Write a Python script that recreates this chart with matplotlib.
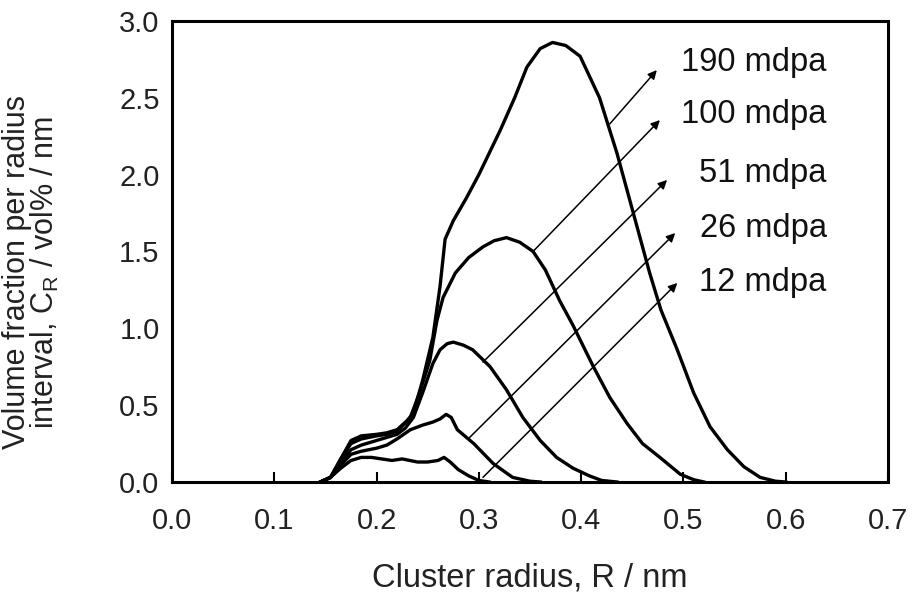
import matplotlib.pyplot as plt
import numpy as np

plt.rcParams['font.family'] = ['Liberation Sans', 'DejaVu Sans']

# Данные кривых
r_190 = [0.145, 0.155, 0.165, 0.175, 0.185, 0.20, 0.21, 0.22, 0.23, 0.236, 0.245, 0.255, 0.262, 0.267,
         0.275, 0.288, 0.30, 0.321, 0.335, 0.347, 0.36, 0.372, 0.385, 0.399, 0.418, 0.435, 0.451, 0.467,
         0.478, 0.494, 0.510, 0.526, 0.543, 0.559, 0.575, 0.59, 0.60]
c_190 = [0.0, 0.03, 0.15, 0.27, 0.30, 0.31, 0.32, 0.34, 0.40, 0.45, 0.66, 0.94, 1.27, 1.58,
         1.70, 1.85, 2.00, 2.29, 2.50, 2.70, 2.82, 2.86, 2.84, 2.77, 2.50, 2.14, 1.75, 1.36,
         1.12, 0.86, 0.58, 0.36, 0.21, 0.10, 0.03, 0.005, 0.0]

r_100 = [0.145, 0.155, 0.165, 0.175, 0.185, 0.20, 0.21, 0.22, 0.233, 0.242, 0.252, 0.259, 0.265,
         0.277, 0.29, 0.304, 0.315, 0.327, 0.34, 0.353, 0.365, 0.379, 0.392, 0.412, 0.428, 0.445,
         0.46, 0.477, 0.497, 0.51, 0.52]
c_100 = [0.0, 0.03, 0.15, 0.25, 0.28, 0.30, 0.31, 0.33, 0.42, 0.58, 0.79, 1.05, 1.20,
         1.36, 1.46, 1.53, 1.57, 1.59, 1.56, 1.50, 1.38, 1.18, 1.02, 0.75, 0.55, 0.38,
         0.25, 0.16, 0.05, 0.015, 0.0]

r_51 = [0.145, 0.155, 0.165, 0.175, 0.185, 0.20, 0.21, 0.22, 0.228, 0.236, 0.245, 0.255, 0.262,
        0.269, 0.275, 0.285, 0.294, 0.311, 0.327, 0.343, 0.36, 0.376, 0.392, 0.408, 0.42, 0.435]
c_51 = [0.0, 0.03, 0.13, 0.21, 0.24, 0.27, 0.29, 0.31, 0.35, 0.42, 0.58, 0.77, 0.86,
        0.90, 0.91, 0.89, 0.86, 0.75, 0.60, 0.42, 0.27, 0.16, 0.09, 0.04, 0.01, 0.0]

r_26 = [0.145, 0.155, 0.165, 0.175, 0.185, 0.20, 0.21, 0.22, 0.233, 0.245, 0.255, 0.262, 0.268,
        0.273, 0.279, 0.295, 0.314, 0.333, 0.35, 0.36]
c_26 = [0.0, 0.03, 0.11, 0.18, 0.20, 0.22, 0.24, 0.28, 0.34, 0.37, 0.39, 0.41, 0.44,
        0.42, 0.34, 0.25, 0.12, 0.03, 0.005, 0.0]

r_12 = [0.145, 0.155, 0.165, 0.175, 0.185, 0.195, 0.205, 0.215, 0.225, 0.24, 0.25, 0.26, 0.266,
        0.272, 0.28, 0.29, 0.30, 0.31]
c_12 = [0.0, 0.03, 0.09, 0.14, 0.16, 0.16, 0.15, 0.14, 0.15, 0.13, 0.13, 0.14, 0.16,
        0.13, 0.08, 0.04, 0.01, 0.0]

labels = ['190 mdpa', '100 mdpa', '51 mdpa', '26 mdpa', '12 mdpa']
label_y = [2.73, 2.39, 2.01, 1.65, 1.30]
arrow_tail = [(0.428, 2.33), (0.353, 1.50), (0.304, 0.78), (0.291, 0.29), (0.304, 0.03)]
arrow_head = [(0.474, 2.68), (0.477, 2.355), (0.484, 1.965), (0.492, 1.62), (0.494, 1.295)]

fig = plt.figure(figsize=(9.16, 5.98), dpi=100)
ax = fig.add_axes([0.1878, 0.194, 0.7816, 0.771])

for r, c in [(r_190, c_190), (r_100, c_100), (r_51, c_51), (r_26, c_26), (r_12, c_12)]:
    ax.plot(r, c, color='black', linewidth=2.4, solid_joinstyle='round')

# Стрелки и подписи
for lab, ly, tail, head in zip(labels, label_y, arrow_tail, arrow_head):
    ax.annotate('', xy=head, xytext=tail,
                arrowprops=dict(arrowstyle='-|>', color='black', lw=1.1, mutation_scale=13,
                                shrinkA=0, shrinkB=0))
    ax.text(0.640, ly, lab, ha='right', va='center', fontsize=23.5, color='#111111')

ax.set_xlim(0.0, 0.7)
ax.set_ylim(0.0, 3.0)
ax.set_xticks(np.arange(0, 0.71, 0.1))
ax.set_yticks(np.arange(0, 3.01, 0.5))
ax.set_xticklabels(['0.0', '0.1', '0.2', '0.3', '0.4', '0.5', '0.6', '0.7'])
ax.set_yticklabels(['0.0', '0.5', '1.0', '1.5', '2.0', '2.5', '3.0'])
ax.tick_params(axis='x', direction='in', length=7, width=1.5, pad=18, labelsize=21,
               labelcolor='#222222')
ax.tick_params(axis='y', length=0, pad=9, labelsize=21, labelcolor='#222222')
for s in ax.spines.values():
    s.set_linewidth(2.2)

ax.set_xlabel('Cluster radius, R / nm', fontsize=23.5, labelpad=20, color='#222222')
ax.set_ylabel('Volume fraction per radius\ninterval, C$_\\mathregular{R}$ / vol% / nm', fontsize=22,
              linespacing=0.86, color='#222222')
ax.yaxis.set_label_coords(-0.155, 0.455)

plt.savefig('out.png', dpi=100)
